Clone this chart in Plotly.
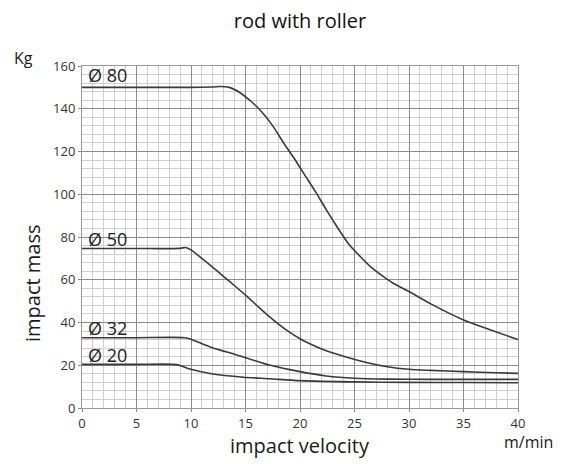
import plotly.graph_objects as go

# impact velocity (m/min) vs impact mass (Kg), one curve per rod diameter
vel_80 = [0, 5, 10, 12, 12.7, 13.5, 14.5, 15.5, 16.5, 17.5, 18.5, 19.5, 20.5, 21.5, 22.5, 23.5, 24.5, 25.5, 26.5, 27.5, 28.5, 30, 32, 35, 37.5, 40]
mass_80 = [150, 150, 150, 150.2, 150.4, 150, 147.5, 143.5, 138.5, 132, 124, 116.5, 108.5, 100.5, 92, 84, 76.5, 71, 66, 62, 58.5, 54.5, 48.7, 41.2, 36.5, 32]

vel_50 = [0, 5, 9, 9.5, 10, 11, 12, 13, 14, 15, 16, 17, 18, 19, 20, 21, 22, 24, 26, 28, 30, 32, 35, 38, 40]
mass_50 = [74.6, 74.6, 74.7, 75.1, 74, 70, 65.8, 61.5, 57.2, 52.8, 48.2, 43.6, 39.4, 35.6, 32.4, 29.8, 27.6, 24.2, 21.4, 19.3, 18.1, 17.6, 17, 16.5, 16.2]

vel_32 = [0, 5, 9.4, 10, 11.7, 14.2, 17.2, 20, 22.4, 25, 28, 32, 36, 40]
mass_32 = [32.9, 32.9, 32.9, 32.2, 28.7, 24.8, 20.1, 17, 15, 13.9, 13.5, 13.4, 13.4, 13.4]

vel_20 = [0, 5, 8.7, 9.9, 12, 14.8, 17.2, 20, 25, 30, 35, 40]
mass_20 = [20.4, 20.4, 20.3, 18.2, 15.9, 14.4, 13.7, 12.8, 12.2, 12, 11.9, 11.8]

curve_labels = ["Ø 80", "Ø 50", "Ø 32", "Ø 20"]
label_y = [155.6, 79.3, 37.2, 24.8]

x_ticks = [0, 5, 10, 15, 20, 25, 30, 35, 40]
y_ticks = [0, 20, 40, 60, 80, 100, 120, 140, 160]

FONT = "Open Sans, Noto Sans, sans-serif"
LINE = "#3a3a3a"

fig = go.Figure()

for vx, my in [(vel_80, mass_80), (vel_50, mass_50), (vel_32, mass_32), (vel_20, mass_20)]:
    fig.add_trace(
        go.Scatter(
            x=vx, y=my, mode="lines",
            line=dict(color=LINE, width=1.6, shape="spline", smoothing=0.7),
            showlegend=False, hoverinfo="skip",
        )
    )

# white patch behind the top label (hides the grid there)
fig.add_shape(type="rect", x0=0, x1=4.7, y0=152.3, y1=160, layer="below",
              fillcolor="white", line_width=0)

# diameter labels inside the grid
for txt, ly in zip(curve_labels, label_y):
    fig.add_annotation(
        x=0.4, y=ly, text=txt, showarrow=False, xanchor="left", yanchor="middle",
        font=dict(family=FONT, size=18, color="#222"),
    )


def side_text(x, y, text, size, angle=0):
    fig.add_annotation(x=x, y=y, xref="paper", yref="paper", text=text, showarrow=False,
                       xanchor="center", yanchor="middle", textangle=angle,
                       font=dict(family=FONT, size=size, color="#1a1a1a"))


# unit labels and axis titles
side_text(-0.135, 1.023, "Kg", 16)
side_text(1.023, -0.1, "m/min", 16)
side_text(-0.115, 0.365, "impact mass", 20, angle=-90)
side_text(0.5, -0.111, "impact velocity", 20)

fig.update_layout(
    title=dict(text="rod with roller", x=0.5, xref="paper", y=0.972, yanchor="middle",
               font=dict(family=FONT, size=20, color="#111")),
    width=556, height=456,
    margin=dict(l=74, r=46, t=58, b=56),
    paper_bgcolor="white", plot_bgcolor="white",
    xaxis=dict(
        range=[0, 40], tickvals=x_ticks, showgrid=True, gridcolor="#8c8c8c", gridwidth=1,
        minor=dict(dtick=1, showgrid=True, gridcolor="#cfcfcf", gridwidth=1),
        ticks="outside", ticklen=3, tickcolor="#888",
        showline=True, linecolor="#999", mirror=True, zeroline=False,
        tickfont=dict(family=FONT, size=13, color="#333"),
    ),
    yaxis=dict(
        range=[0, 160], tickvals=y_ticks, showgrid=True, gridcolor="#8c8c8c", gridwidth=1,
        minor=dict(dtick=4, showgrid=True, gridcolor="#cfcfcf", gridwidth=1),
        ticks="outside", ticklen=3, tickcolor="#888",
        showline=True, linecolor="#999", mirror=True, zeroline=False,
        tickfont=dict(family=FONT, size=13, color="#333"),
    ),
)

fig.write_html("out.html")
